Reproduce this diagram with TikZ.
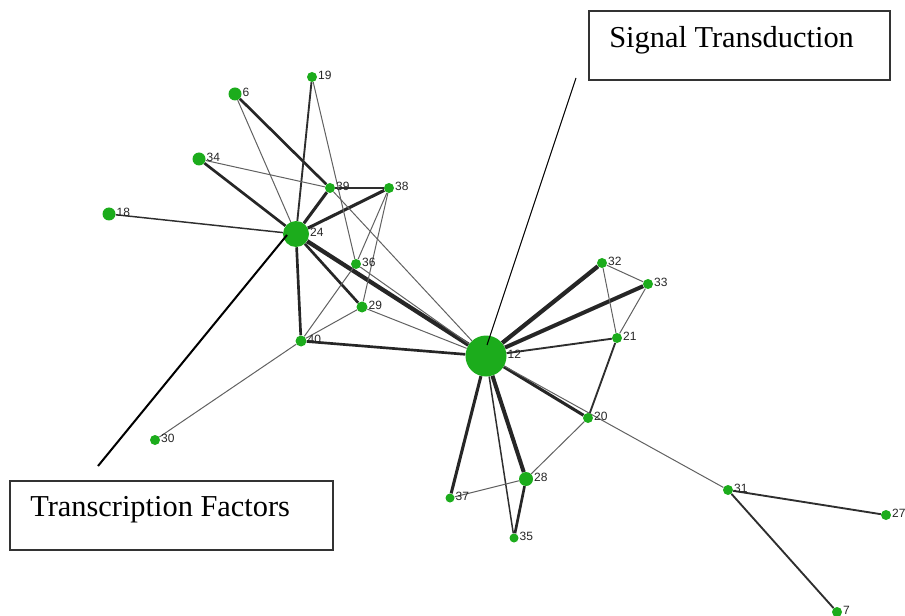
\documentclass[tikz,border=0pt]{standalone}
\usepackage{fontspec}
\setmainfont{Liberation Serif}
\newfontfamily\labfont{Liberation Sans}
\usetikzlibrary{backgrounds}
\definecolor{genegreen}{RGB}{28,172,28}
\begin{document}
\begin{tikzpicture}[x=0.75pt,y=-0.75pt,
    gene/.style={circle,fill=genegreen,inner sep=0pt,minimum size=#1},
    nlab/.style={font=\labfont\fontsize{9}{9}\selectfont,text=black!85,inner sep=0.5pt,yshift=1.5pt},
    thinedge/.style={line width=0.75pt,black!62},
    midedge/.style={line width=1.4pt,black!82},
    thickedge/.style={line width=2pt,black!85},
    heavyedge/.style={line width=3.2pt,black!85},
    labbox/.style={draw=black!80,line width=0.8pt,inner sep=0pt},
    boxtext/.style={font=\fontsize{22.8}{24}\selectfont,inner sep=0pt}]
    \useasboundingbox (0,0) rectangle (905,616);

% genes
\node[gene=30.75pt, label={[nlab]east:12}] (n12) at (486,356) {};
\node[gene=19.5pt, label={[nlab]east:24}] (n24) at (296,234) {};
\node[gene=7.5pt, label={[nlab]east:19}] (n19) at (312,77) {};
\node[gene=9.75pt, label={[nlab]east:6}] (n6) at (235,94) {};
\node[gene=9.75pt, label={[nlab]east:34}] (n34) at (199,159) {};
\node[gene=9.75pt, label={[nlab]east:18}] (n18) at (109,214) {};
\node[gene=7.5pt, label={[nlab]east:39}] (n39) at (330,188) {};
\node[gene=7.5pt, label={[nlab]east:38}] (n38) at (389,188) {};
\node[gene=7.5pt, label={[nlab]east:36}] (n36) at (356,264) {};
\node[gene=8.25pt, label={[nlab]east:29}] (n29) at (362,307) {};
\node[gene=8.25pt, label={[nlab]east:40}] (n40) at (301,341) {};
\node[gene=7.5pt, label={[nlab]east:30}] (n30) at (155,440) {};
\node[gene=7.5pt, label={[nlab]east:32}] (n32) at (602,263) {};
\node[gene=7.5pt, label={[nlab]east:33}] (n33) at (648,284) {};
\node[gene=7.5pt, label={[nlab]east:21}] (n21) at (617,338) {};
\node[gene=7.5pt, label={[nlab]east:20}] (n20) at (588,418) {};
\node[gene=10.5pt, label={[nlab]east:28}] (n28) at (526,479) {};
\node[gene=6.75pt, label={[nlab]east:37}] (n37) at (450,498) {};
\node[gene=6.75pt, label={[nlab]east:35}] (n35) at (514,538) {};
\node[gene=7.5pt, label={[nlab]east:31}] (n31) at (728,490) {};
\node[gene=7.5pt, label={[nlab]east:27}] (n27) at (886,515) {};
\node[gene=7.5pt, label={[nlab]east:7}] (n7) at (837,612) {};

\begin{scope}[on background layer]
  \draw[heavyedge] (n24) -- (n12);
  \draw[heavyedge] (n12) -- (n32);
  \draw[heavyedge,line width=3pt] (n12) -- (n33);
  \draw[heavyedge,line width=3pt] (n12) -- (n28);

  \draw[thickedge,line width=2.3pt] (n12) -- (n37);
  \draw[thickedge,line width=2.3pt] (n12) -- (n20);
  \draw[thickedge,line width=2.3pt] (n24) -- (n39);
  \draw[thickedge,line width=2.3pt] (n24) -- (n38);
  \draw[thickedge] (n24) -- (n34);
  \draw[thickedge] (n6) -- (n39);
  \draw[thickedge] (n24) -- (n29);
  \draw[thickedge] (n24) -- (n40);
  \draw[thickedge] (n40) -- (n12);
  \draw[thickedge] (n28) -- (n35);

  \draw[midedge] (n19) -- (n24);
  \draw[midedge] (n12) -- (n21);
  \draw[midedge] (n21) -- (n20);
  \draw[midedge] (n31) -- (n27);
  \draw[midedge] (n31) -- (n7);
  \draw[midedge] (n39) -- (n38);
  \draw[midedge,line width=1.1pt] (n18) -- (n24);
  \draw[midedge,line width=1.1pt] (n12) -- (n35);

  \draw[thinedge] (n6) -- (n24);
  \draw[thinedge] (n34) -- (n39);
  \draw[thinedge] (n19) -- (n36);
  \draw[thinedge] (n39) -- (n12);
  \draw[thinedge] (n38) -- (n36);
  \draw[thinedge] (n38) -- (n29);
  \draw[thinedge] (n40) -- (n36);
  \draw[thinedge] (n40) -- (n29);
  \draw[thinedge] (n29) -- (n12);
  \draw[thinedge] (n36) -- (n12);
  \draw[thinedge] (n40) -- (n30);
  \draw[thinedge] (n32) -- (n33);
  \draw[thinedge] (n32) -- (n21);
  \draw[thinedge] (n33) -- (n21);
  \draw[thinedge] (n28) -- (n20);
  \draw[thinedge] (n37) -- (n28);
  \draw[thinedge] (n12) -- (n31);
\end{scope}

% call-outs
\node[labbox,minimum width=225.75pt,minimum height=51.75pt] (stbox) at (739.5,45.5) {};
\node[boxtext,anchor=base west] (sttext) at (609,48) {Signal Transduction};
\node[labbox,minimum width=242.25pt,minimum height=51.75pt] (tfbox) at (171.5,515.5) {};
\node[boxtext,anchor=base west] (tftext) at (30,516) {Transcription Factors};

\coordinate (stfoot) at (576,78);
\coordinate (sttip) at (487,345);
\coordinate (tffoot) at (98,466);
\coordinate (tftip) at (287,235);
\draw[line width=0.75pt] (stfoot) -- (sttip);
\draw[line width=1.5pt] (tffoot) -- (tftip);

\end{tikzpicture}
\end{document}
